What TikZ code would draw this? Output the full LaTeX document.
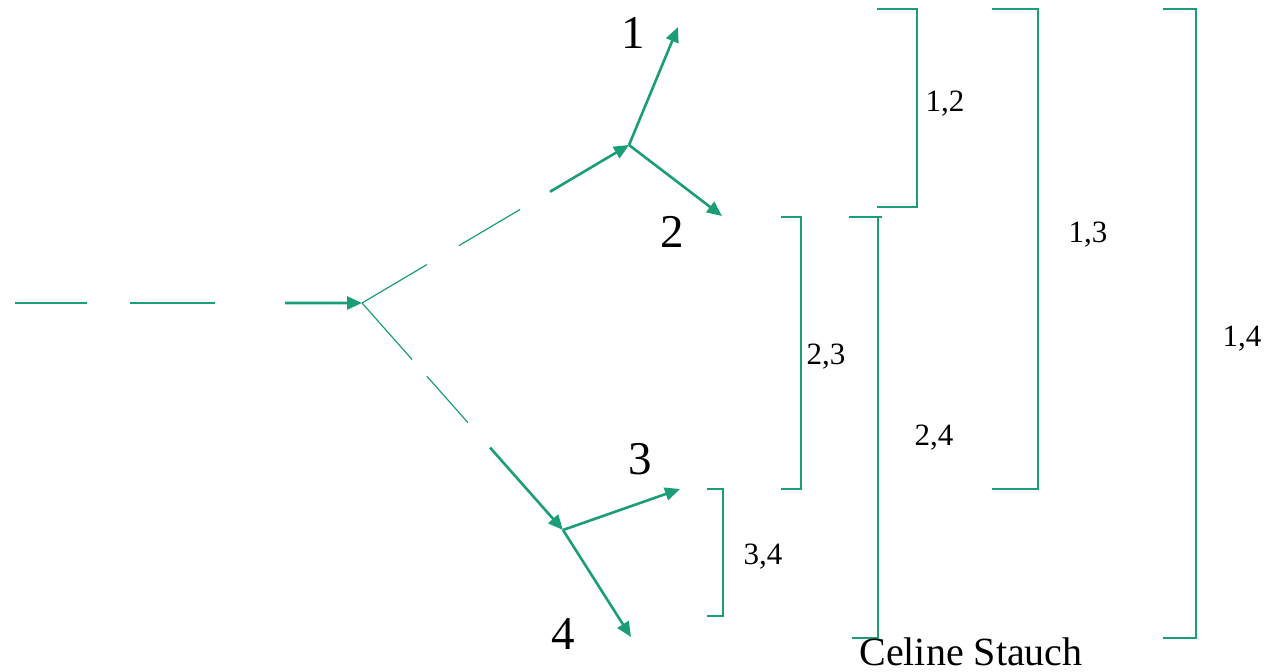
\documentclass[tikz,border=0pt]{standalone}
\usepackage{fontspec}
\setmainfont{Liberation Serif}
\usetikzlibrary{arrows.meta,calc}
\definecolor{trackgreen}{HTML}{1B9E77}
\tikzset{
  track/.style={trackgreen, line width=0.6pt},
  trackend/.style={trackgreen, line width=1.3pt, -{Triangle[length=7.5pt,width=6.5pt]}},
  bracket/.style={trackgreen, line width=0.7pt},
  decay/.style={font=\fontsize{23.5}{28}\selectfont, anchor=base},
  pair/.style={font=\fontsize{15.5}{18}\selectfont, anchor=base},
}

\begin{document}
\begin{tikzpicture}[x=0.5pt, y=-0.5pt]
  \useasboundingbox (0,0) rectangle (1268,672);
  \coordinate (i1) at (15,303);
  \coordinate (v0) at (362,303);
  \coordinate (v1) at (629,145);
  \coordinate (v2) at (563,530);
  \coordinate (f1) at (678,27);
  \coordinate (f2) at (722,216);
  \coordinate (f3) at (680,489);
  \coordinate (f4) at (631,637);
  % incoming track
  \draw[track, line width=0.8pt] (i1) -- ($(i1)!0.207!(v0)$);
  \draw[track, line width=0.8pt] ($(i1)!0.331!(v0)$) -- ($(i1)!0.576!(v0)$);
  \draw[trackend] ($(i1)!0.778!(v0)$) -- (v0);
  % upper branch
  \draw[track] (v0) -- ($(v0)!0.243!(v1)$);
  \draw[track] ($(v0)!0.363!(v1)$) -- ($(v0)!0.592!(v1)$);
  \draw[trackend] ($(v0)!0.704!(v1)$) -- (v1);
  \draw[trackend] (v1) -- (f1);
  \draw[trackend] (v1) -- (f2);
  % lower branch
  \draw[track] (v0) -- ($(v0)!0.249!(v2)$);
  \draw[track] ($(v0)!0.323!(v2)$) -- ($(v0)!0.527!(v2)$);
  \draw[trackend] ($(v0)!0.637!(v2)$) -- (v2);
  \draw[trackend] (v2) -- (f3);
  \draw[trackend] (v2) -- (f4);
  \node[decay] (l1) at (633,49) {1};
  \node[decay] (l2) at (672,248) {2};
  \node[decay] (l3) at (640,475) {3};
  \node[decay] (l4) at (563,649) {4};
  % pair brackets
  \draw[bracket] (877,9) -- (917,9) -- (917,207) -- (877,207);
  \draw[bracket] (992,9) -- (1038,9) -- (1038,489) -- (992,489);
  \draw[bracket] (1163,9) -- (1196,9) -- (1196,638) -- (1163,638);
  \draw[bracket] (781,217) -- (801,217) -- (801,489) -- (781,489);
  \draw[bracket] (849,217) -- (882,217);
  \draw[bracket] (878,217) -- (878,638) -- (852,638);
  \draw[bracket] (707,489) -- (723,489) -- (723,616) -- (707,616);
  \node[pair] (p12) at (945,112) {1,2};
  \node[pair] (p13) at (1088,243) {1,3};
  \node[pair] (p14) at (1242,347) {1,4};
  \node[pair] (p23) at (826,365) {2,3};
  \node[pair] (p24) at (934,446) {2,4};
  \node[pair] (p34) at (763,565) {3,4};
  \node[font=\fontsize{20}{24}\selectfont, anchor=base] (name) at (971,666) {Celine Stauch};
\end{tikzpicture}
\end{document}
